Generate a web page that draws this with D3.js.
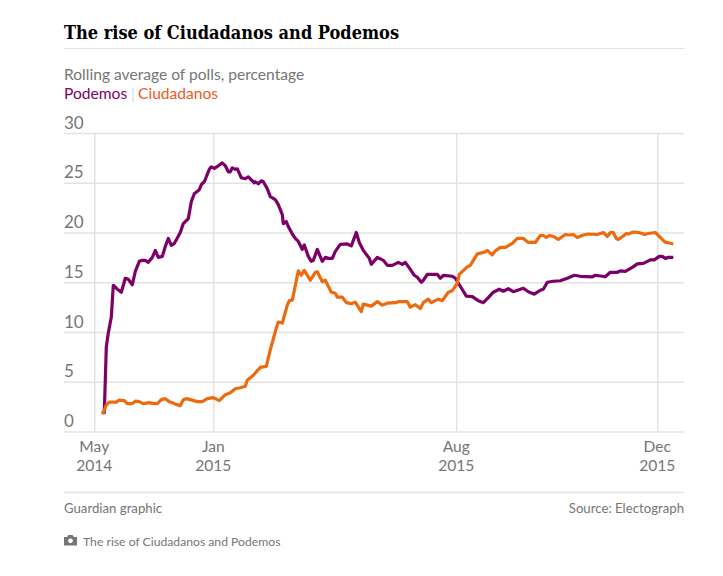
<!DOCTYPE html>
<html>
<head>
<meta charset="utf-8">
<script src="https://cdn.jsdelivr.net/npm/d3@7"></script>
<style>
  html, body { margin: 0; padding: 0; background: #fff; }
  text { font-family: Lato, sans-serif; }
</style>
</head>
<body>
<script>
// The date axis of the original is not linear in time, so points are placed
// along a poll sequence and the month ticks are pinned on that sequence.
const tickSeq = [0, 119, 362, 563];
const tickLabels = [["May", "2014"], ["Jan", "2015"], ["Aug", "2015"], ["Dec", "2015"]];
const yTicks = [0, 5, 10, 15, 20, 25, 30];

const podemosSeq = [
  8, 10, 12, 14, 17, 19, 23, 27, 31, 34,
  38, 41, 45, 48, 51, 54, 58, 61, 64, 68,
  71, 74, 77, 80, 86, 89, 94, 97, 100, 105,
  107, 110, 115, 117, 120, 124, 128, 131, 134, 136,
  138, 141, 143, 147, 151, 154, 160, 161, 164, 167,
  169, 173, 176, 181, 184, 188, 189, 192, 194, 198,
  201, 204, 208, 210, 214, 217, 219, 223, 228, 231,
  234, 238, 241, 246, 253, 257, 262, 265, 269, 275,
  277, 283, 289, 293, 298, 304, 308, 311, 316, 320,
  323, 327, 329, 333, 343, 346, 349, 358, 361, 366,
  372, 378, 384, 389, 394, 399, 405, 409, 414, 419,
  429, 434, 440, 446, 449, 453, 459, 466, 473, 480,
  486, 498, 501, 508, 511, 516, 523, 526, 531, 538,
  543, 549, 556, 560, 565, 568, 571, 574, 579
];
const podemosValues = [
  1.9, 1.9, 8.5, 9.9, 11.5, 14.7, 14.3, 14.0, 15.4, 15.3,
  14.75, 16.1, 17.1, 17.2, 17.2, 17.0, 17.5, 18.2, 17.5, 17.6,
  18.6, 19.4, 18.7, 18.9, 20, 20.9, 21.4, 23.1, 23.9, 24.3,
  24.8, 25.1, 26.35, 26.6, 26.45, 26.7, 27, 26.7, 26.1, 26.1,
  26.5, 26.35, 26.4, 25.5, 25.4, 25.6, 25, 25.1, 24.9, 25.2,
  25.1, 24.4, 23.6, 23.3, 22.8, 21.8, 20.9, 21.1, 20.6, 19.85,
  19.4, 19.1, 18.3, 18.75, 17.6, 17.1, 17.2, 18.3, 17.1, 17.5,
  17.4, 17.4, 18.1, 18.8, 18.85, 18.65, 20, 19, 18.2, 17.4,
  16.8, 17.5, 17.2, 16.7, 16.7, 17, 16.8, 17, 16.3, 15.7,
  15.5, 15, 15.2, 15.8, 15.8, 15.4, 15.7, 15.6, 15.4, 14.6,
  13.6, 13.55, 13.15, 12.95, 13.45, 14, 14.3, 14.1, 14.35, 14.05,
  14.4, 14.05, 13.8, 14.2, 14.3, 15, 15.1, 15.15, 15.4, 15.7,
  15.6, 15.55, 15.7, 15.6, 15.55, 16, 16, 16.15, 16.1, 16.5,
  16.85, 16.9, 17.25, 17.25, 17.6, 17.6, 17.4, 17.5, 17.5
];

const ciudadanosSeq = [
  7, 9, 12, 15, 22, 25, 30, 33, 38, 41,
  45, 49, 55, 59, 63, 67, 71, 75, 78, 81,
  86, 89, 92, 96, 103, 108, 113, 119, 125, 131,
  136, 141, 146, 151, 153, 159, 166, 172, 176, 182,
  184, 188, 193, 195, 198, 204, 207, 210, 216, 221,
  223, 228, 231, 237, 241, 243, 248, 252, 257, 261,
  267, 269, 277, 283, 288, 293, 301, 304, 313, 316,
  321, 326, 329, 334, 337, 344, 348, 354, 358, 363,
  365, 373, 376, 383, 391, 393, 398, 401, 406, 411,
  418, 423, 429, 434, 441, 446, 449, 452, 455, 459,
  464, 471, 474, 479, 483, 489, 494, 503, 509, 513,
  516, 519, 522, 524, 529, 532, 534, 539, 544, 548,
  550, 554, 561, 566, 571, 573, 579
];
const ciudadanosValues = [
  1.9, 1.9, 2.65, 2.95, 2.95, 3.15, 3.1, 2.8, 2.8, 3.05,
  3, 2.8, 2.9, 2.8, 2.8, 3.2, 3.3, 3, 2.9, 2.75,
  2.6, 3.2, 3.3, 3.2, 3, 3, 3.3, 3.4, 3.1, 3.7,
  3.9, 4.3, 4.4, 4.55, 5.15, 5.65, 6.45, 6.55, 8.2, 10.4,
  11, 10.9, 12.7, 13.15, 13.2, 16.15, 15.7, 16.2, 15.2, 16,
  16.05, 15.05, 15.2, 14, 13.9, 13.5, 13.5, 12.95, 12.85, 13,
  12.05, 12.8, 12.6, 13.05, 12.7, 12.9, 12.95, 13.05, 13.05, 12.5,
  12.75, 12.35, 12.95, 13.3, 12.95, 13.3, 13.15, 14, 14.15, 14.9,
  15.8, 16.55, 16.7, 17.85, 18.05, 18.2, 17.75, 18.15, 18.5, 18.5,
  18.9, 19.4, 19.4, 19, 19, 19.7, 19.7, 19.5, 19.7, 19.6,
  19.3, 19.8, 19.75, 19.8, 19.5, 19.75, 19.85, 19.8, 20, 19.6,
  20, 20, 19.4, 19.3, 19.65, 19.9, 19.85, 20.05, 20, 19.9,
  19.8, 19.9, 20, 19.5, 19, 19, 18.85
];

const width = 723, height = 576;
const left = 64, right = 684;
const grey = "#767676", rule = "#e3e3e3";
const purple = "#7d0068", orange = "#ee6a0e";

const x = d3.scaleLinear().domain([0, 590]).range([94.3, 684.3]);
const y = d3.scaleLinear().domain([0, 30]).range([431.5, 133]);

const svg = d3.select("body").append("svg")
    .attr("width", width)
    .attr("height", height)
    .style("display", "block");

// heading
svg.append("text")
    .attr("x", left).attr("y", 38.5)
    .style("font-family", "'DejaVu Serif', serif")
    .style("font-stretch", "condensed")
    .style("font-weight", 700)
    .style("font-size", "19px")
    .attr("textLength", 335)
    .attr("lengthAdjust", "spacingAndGlyphs")
    .attr("fill", "#000")
    .text("The rise of Ciudadanos and Podemos");

svg.append("line")
    .attr("x1", left).attr("x2", right)
    .attr("y1", 48.5).attr("y2", 48.5)
    .attr("stroke", rule);

svg.append("text")
    .attr("x", left).attr("y", 80)
    .style("font-size", "15.6px")
    .attr("fill", grey)
    .text("Rolling average of polls, percentage");

const legend = svg.append("text")
    .attr("y", 99)
    .style("font-size", "15.6px");
legend.append("tspan").attr("x", left).attr("fill", purple).text("Podemos");
legend.append("tspan").attr("x", 131).attr("fill", "#d5dbe3").text("|");
legend.append("tspan").attr("x", 138).attr("fill", "#f1591f").text("Ciudadanos");

// y axis: full width rules, labels sitting above them
const yAxis = svg.append("g")
    .attr("transform", `translate(${left},0)`)
    .call(d3.axisRight(y).tickValues(yTicks).tickSize(right - left));
yAxis.select(".domain").remove();
yAxis.selectAll("line").attr("stroke", rule).attr("stroke-width", 1.5);
yAxis.selectAll("text")
    .attr("x", 0)
    .attr("dy", -5)
    .style("font-size", "17px")
    .attr("fill", grey);

// x axis: rules up the plot, two-line labels underneath
const xAxis = svg.append("g")
    .attr("transform", `translate(0,${y(0)})`)
    .call(d3.axisBottom(x).tickValues(tickSeq).tickSize(y(30) - y(0)).tickFormat(""));
xAxis.select(".domain").remove();
xAxis.selectAll("line").attr("stroke", rule).attr("stroke-width", 1.5);

const xLabels = svg.append("g")
    .selectAll("text")
    .data(tickSeq)
    .join("text")
      .attr("text-anchor", "middle")
      .attr("y", 452)
      .style("font-size", "15.6px")
      .attr("fill", grey);
xLabels.selectAll("tspan")
    .data((d, i) => tickLabels[i])
    .join("tspan")
      .attr("x", function() { return x(d3.select(this.parentNode).datum()); })
      .attr("dy", (d, i) => i ? 18.5 : 0)
      .text(d => d);

// series
const line = d3.line().x(d => x(d[0])).y(d => y(d[1]));
[[d3.zip(podemosSeq, podemosValues), purple], [d3.zip(ciudadanosSeq, ciudadanosValues), orange]]
  .forEach(([data, colour]) => {
    svg.append("path")
        .datum(data)
        .attr("fill", "none")
        .attr("stroke", colour)
        .attr("stroke-width", 3.2)
        .attr("stroke-linejoin", "round")
        .attr("d", line);
  });

// footer
svg.append("line")
    .attr("x1", left).attr("x2", right)
    .attr("y1", 492.5).attr("y2", 492.5)
    .attr("stroke", rule)
    .attr("stroke-width", 1.5);

svg.append("text")
    .attr("x", left).attr("y", 513)
    .style("font-size", "13.2px")
    .attr("fill", grey)
    .text("Guardian graphic");

svg.append("text")
    .attr("x", right).attr("y", 513)
    .attr("text-anchor", "end")
    .style("font-size", "13.2px")
    .attr("fill", grey)
    .text("Source: Electograph");

// camera icon
const camera = svg.append("g").attr("transform", "translate(64,535)");
camera.append("path")
    .attr("d", "M0 2 H3 L4.5 0 H8.5 L10 2 H13 V10.5 H0 Z")
    .attr("fill", "#767676");
camera.append("circle")
    .attr("cx", 6.5).attr("cy", 5.8).attr("r", 2.4)
    .attr("fill", "#fff");

svg.append("text")
    .attr("x", 83).attr("y", 546)
    .style("font-size", "12.2px")
    .attr("fill", grey)
    .text("The rise of Ciudadanos and Podemos");
</script>
</body>
</html>
